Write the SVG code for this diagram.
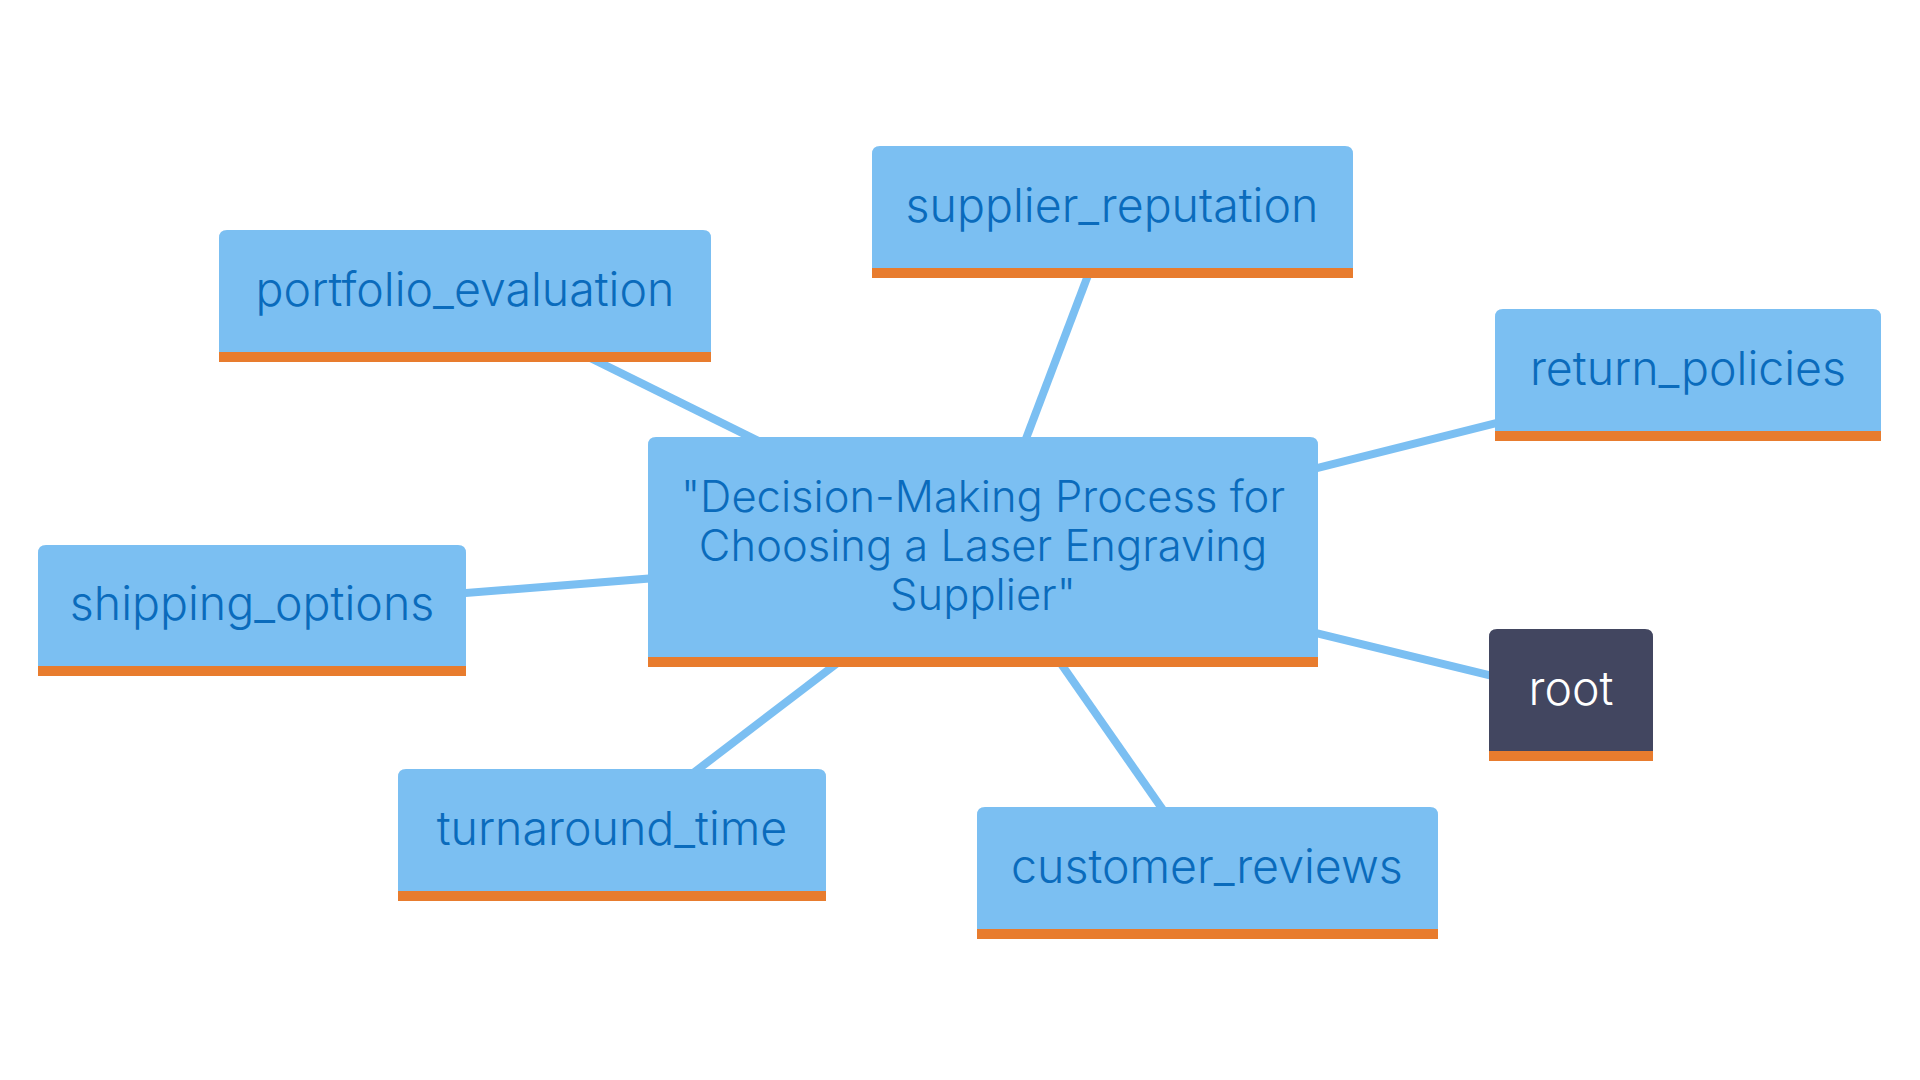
<svg xmlns="http://www.w3.org/2000/svg" width="1920" height="1080" viewBox="0 0 1920 1080">
<style>
.edge{stroke:#7BBFF2;stroke-width:8;fill:none;stroke-linecap:butt}
.box{fill:#7BBFF2}
.dark{fill:#424660}
.bar{fill:#E87C2E}
.lbl{font-family:Inter,"Open Sans","Liberation Sans",sans-serif;font-size:46.5px;font-weight:300;fill:#0A6BBC;text-anchor:middle}
.big{font-size:43.5px}
.lblw{font-family:Inter,"Open Sans","Liberation Sans",sans-serif;font-size:46.5px;font-weight:300;fill:#FFFFFF;text-anchor:middle}
</style>
<rect width="1920" height="1080" fill="#FFFFFF"/>
<g id="connectors">
<line class="edge" x1="983" y1="552" x2="465" y2="296"/>
<line class="edge" x1="983" y1="552" x2="1112" y2="212"/>
<line class="edge" x1="983" y1="552" x2="1688" y2="375"/>
<line class="edge" x1="983" y1="552" x2="252" y2="610"/>
<line class="edge" x1="983" y1="552" x2="1571" y2="695"/>
<line class="edge" x1="983" y1="552" x2="612" y2="835"/>
<line class="edge" x1="983" y1="552" x2="1207" y2="873"/>
</g>
<g id="center">
<path class="box" d="M648,667 V445 Q648,437 656,437 H1310 Q1318,437 1318,445 V667 Z"/>
<rect class="bar" x="648" y="657" width="670" height="10"/>
<text class="lbl big" x="983" y="512">"Decision-Making Process for</text>
<text class="lbl big" x="983" y="561">Choosing a Laser Engraving</text>
<text class="lbl big" x="983" y="610">Supplier"</text>
</g>
<g id="portfolio_evaluation">
<path class="box" d="M219,362 V238 Q219,230 227,230 H703 Q711,230 711,238 V362 Z"/>
<rect class="bar" x="219" y="352" width="492" height="10"/>
<text class="lbl" x="465" y="306">portfolio_evaluation</text>
</g>
<g id="supplier_reputation">
<path class="box" d="M872,278 V154 Q872,146 880,146 H1345 Q1353,146 1353,154 V278 Z"/>
<rect class="bar" x="872" y="268" width="481" height="10"/>
<text class="lbl" x="1112" y="222">supplier_reputation</text>
</g>
<g id="return_policies">
<path class="box" d="M1495,441 V317 Q1495,309 1503,309 H1873 Q1881,309 1881,317 V441 Z"/>
<rect class="bar" x="1495" y="431" width="386" height="10"/>
<text class="lbl" x="1688" y="385">return_policies</text>
</g>
<g id="shipping_options">
<path class="box" d="M38,676 V553 Q38,545 46,545 H458 Q466,545 466,553 V676 Z"/>
<rect class="bar" x="38" y="666" width="428" height="10"/>
<text class="lbl" x="252" y="620">shipping_options</text>
</g>
<g id="root">
<path class="dark" d="M1489,761 V637 Q1489,629 1497,629 H1645 Q1653,629 1653,637 V761 Z"/>
<rect class="bar" x="1489" y="751" width="164" height="10"/>
<text class="lblw" x="1571" y="705">root</text>
</g>
<g id="turnaround_time">
<path class="box" d="M398,901 V777 Q398,769 406,769 H818 Q826,769 826,777 V901 Z"/>
<rect class="bar" x="398" y="891" width="428" height="10"/>
<text class="lbl" x="612" y="845">turnaround_time</text>
</g>
<g id="customer_reviews">
<path class="box" d="M977,939 V815 Q977,807 985,807 H1430 Q1438,807 1438,815 V939 Z"/>
<rect class="bar" x="977" y="929" width="461" height="10"/>
<text class="lbl" x="1207" y="883">customer_reviews</text>
</g>
</svg>
